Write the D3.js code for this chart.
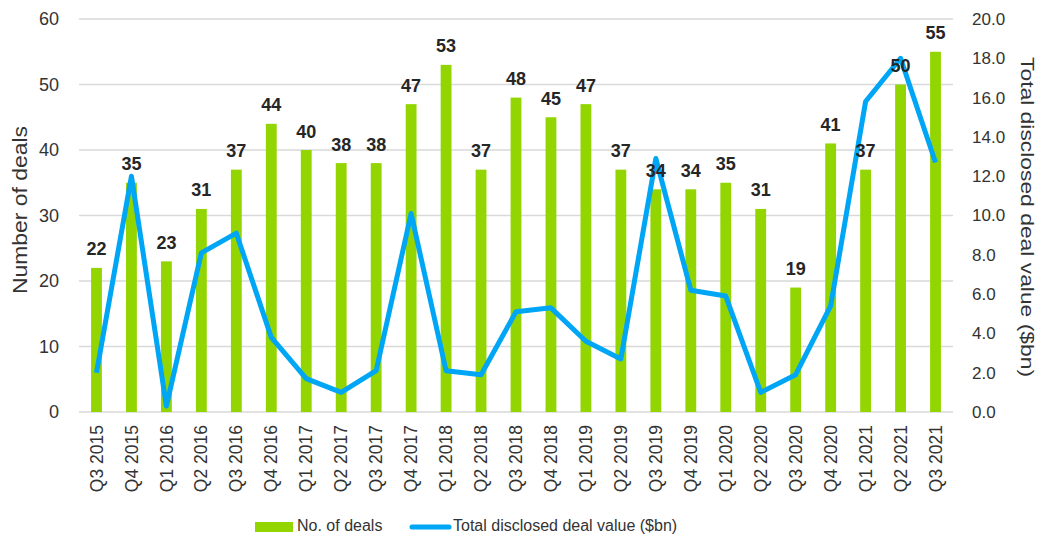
<!DOCTYPE html>
<html>
<head>
<meta charset="utf-8">
<script src="https://cdn.jsdelivr.net/npm/d3@7"></script>
<style>
  body { margin: 0; background: #fff; }
  svg text { font-family: "Liberation Sans", Arial, sans-serif; }
</style>
</head>
<body>
<svg id="chart" width="1041" height="535"></svg>
<script>
// quarters
var quarters = ["Q3 2015", "Q4 2015", "Q1 2016", "Q2 2016", "Q3 2016", "Q4 2016",
    "Q1 2017", "Q2 2017", "Q3 2017", "Q4 2017", "Q1 2018", "Q2 2018", "Q3 2018",
    "Q4 2018", "Q1 2019", "Q2 2019", "Q3 2019", "Q4 2019", "Q1 2020", "Q2 2020",
    "Q3 2020", "Q4 2020", "Q1 2021", "Q2 2021", "Q3 2021"];

// number of deals (bars)
var deals = [22, 35, 23, 31, 37, 44, 40, 38, 38, 47, 53, 37, 48, 45, 47, 37, 34, 34,
    35, 31, 19, 41, 37, 50, 55];

// total disclosed deal value, $bn (line)
var dealValue = [2.0, 12.0, 0.3, 8.1, 9.1, 3.8, 1.7, 1.0, 2.1, 10.1, 2.1, 1.9, 5.1,
    5.3, 3.6, 2.7, 12.9, 6.2, 5.9, 1.0, 1.9, 5.4, 15.8, 18.0, 12.7];

var leftTicks = [0, 10, 20, 30, 40, 50, 60];
var rightTicks = [0, 2, 4, 6, 8, 10, 12, 14, 16, 18, 20];

var green = "#93d500",
    blue = "#00a6f6",
    textCol = "#333";

var svg = d3.select("#chart");
var margin = {left: 79, right: 88, top: 19, bottom: 123},
    width = 1041 - margin.left - margin.right,
    height = 535 - margin.top - margin.bottom;

var g = svg.append("g").attr("transform", "translate(" + margin.left + "," + margin.top + ")");

var x = d3.scaleBand().domain(quarters).range([0, width])
    .paddingInner(0.69).paddingOuter(0.345);
var xc = function(d) { return x(d) + x.bandwidth() / 2; };
var yL = d3.scaleLinear().domain([0, 60]).range([height, 0]);
var yR = d3.scaleLinear().domain([0, 20]).range([height, 0]);

// gridlines
g.selectAll(".grid")
    .data(leftTicks)
    .enter().append("line")
    .attr("x1", 0).attr("x2", width)
    .attr("y1", function(d) { return yL(d); })
    .attr("y2", function(d) { return yL(d); })
    .attr("stroke", "#d9d9d9")
    .attr("stroke-width", 1.5);

// left axis
var leftAxis = g.append("g")
    .call(d3.axisLeft(yL).tickValues(leftTicks).tickSize(0).tickPadding(20));
leftAxis.select(".domain").remove();
leftAxis.selectAll("text").attr("font-size", 18).attr("fill", textCol)
    .style("font-family", "'Liberation Sans', Arial, sans-serif");

// right axis
var rightAxis = g.append("g")
    .attr("transform", "translate(" + width + ",0)")
    .call(d3.axisRight(yR).tickValues(rightTicks).tickFormat(d3.format(".1f")).tickSize(0).tickPadding(19));
rightAxis.select(".domain").remove();
rightAxis.selectAll("text").attr("font-size", 17).attr("fill", textCol)
    .style("font-family", "'Liberation Sans', Arial, sans-serif");

// x axis
var xAxis = g.append("g")
    .attr("transform", "translate(0," + height + ")")
    .call(d3.axisBottom(x).tickSize(0).tickPadding(0));
xAxis.select(".domain").remove();
xAxis.selectAll("text")
    .attr("transform", "rotate(-90)")
    .attr("x", -13)
    .attr("y", 0)
    .attr("dy", "0.35em")
    .attr("text-anchor", "end")
    .attr("font-size", 17.5)
    .attr("fill", textCol)
    .style("font-family", "'Liberation Sans', Arial, sans-serif");

// bars
g.selectAll(".bar")
    .data(deals)
    .enter().append("rect")
    .attr("x", function(d, i) { return x(quarters[i]); })
    .attr("width", x.bandwidth())
    .attr("y", function(d) { return yL(d); })
    .attr("height", function(d) { return height - yL(d); })
    .attr("fill", green);

// line
var line = d3.line()
    .x(function(d, i) { return xc(quarters[i]); })
    .y(function(d) { return yR(d); });

g.append("path")
    .datum(dealValue)
    .attr("d", line)
    .attr("fill", "none")
    .attr("stroke", blue)
    .attr("stroke-width", 5)
    .attr("stroke-linejoin", "round");

// bar labels
g.selectAll(".lbl")
    .data(deals)
    .enter().append("text")
    .attr("x", function(d, i) { return xc(quarters[i]); })
    .attr("y", function(d) { return yL(d) - 12.5; })
    .attr("text-anchor", "middle")
    .attr("font-size", 18)
    .attr("font-weight", "bold")
    .attr("fill", "#262626")
    .text(function(d) { return d; });

// axis titles
svg.append("text")
    .attr("transform", "translate(27,210) rotate(-90)")
    .attr("text-anchor", "middle")
    .attr("font-size", 20)
    .attr("textLength", 168)
    .attr("lengthAdjust", "spacingAndGlyphs")
    .attr("fill", textCol)
    .text("Number of deals");

svg.append("text")
    .attr("transform", "translate(1021,217) rotate(90)")
    .attr("text-anchor", "middle")
    .attr("font-size", 19)
    .attr("textLength", 320)
    .attr("lengthAdjust", "spacingAndGlyphs")
    .attr("fill", textCol)
    .text("Total disclosed deal value ($bn)");

// legend
var legend = svg.append("g");
legend.append("rect")
    .attr("x", 255).attr("y", 522).attr("width", 38).attr("height", 10)
    .attr("fill", green);
legend.append("text")
    .attr("x", 297).attr("y", 531)
    .attr("font-size", 16).attr("fill", textCol)
    .text("No. of deals");
legend.append("line")
    .attr("x1", 412).attr("x2", 449).attr("y1", 527).attr("y2", 527)
    .attr("stroke", blue).attr("stroke-width", 5).attr("stroke-linecap", "round");
legend.append("text")
    .attr("x", 453).attr("y", 531)
    .attr("font-size", 16).attr("fill", textCol)
    .text("Total disclosed deal value ($bn)");
</script>
</body>
</html>
